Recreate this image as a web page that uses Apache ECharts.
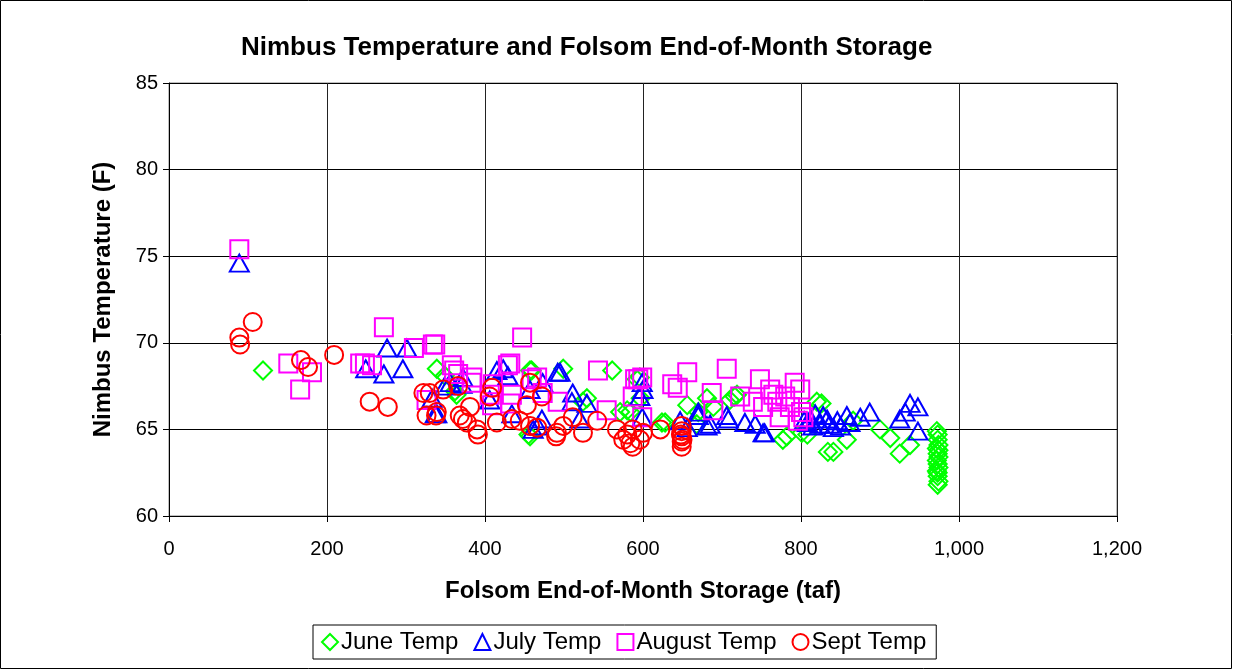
<!DOCTYPE html>
<html>
<head>
<meta charset="utf-8">
<script src="https://cdn.jsdelivr.net/npm/echarts@6/dist/echarts.min.js"></script>
<style>html,body{margin:0;padding:0;background:#fff;}#c{width:1233px;height:670px;}</style>
</head>
<body>
<div id="c"></div>
<script>
const seriesNames = ['June Temp', 'July Temp', 'August Temp', 'Sept Temp'];
const xTicks = [0, 200, 400, 600, 800, 1000, 1200];
const yTicks = [60, 65, 70, 75, 80, 85];

const juneTemp = [[119,68.4],[339,68.5],[349,68.1],[364,67.0],[362,67.2],[457,68.4],[459,68.4],[455,64.7],[457,64.6],[499,68.5],[524,66.6],[529,66.8],[561,68.4],[571,66.0],[584,66.0],[592,67.9],[596,68.0],[580,66.1],[597,66.8],[624,65.4],[628,65.4],[656,66.4],[668,65.3],[670,66.0],[681,66.8],[689,66.3],[710,66.7],[716,66.9],[719,67.0],[777,64.4],[782,64.6],[801,64.8],[808,64.7],[820,66.6],[826,66.5],[834,63.7],[841,63.7],[858,64.4],[866,65.5],[900,65.0],[913,64.5],[925,63.6],[938,64.1],[972,64.9],[973,64.7],[973,64.4],[974,64.1],[972,63.9],[974,63.8],[973,63.6],[974,63.4],[972,63.2],[973,63.0],[974,62.8],[972,62.6],[973,62.5],[973,62.3],[974,62.0],[973,61.8]];
const julyTemp = [[89,74.6],[249,68.5],[272,68.2],[276,69.7],[296,68.5],[301,69.7],[333,66.8],[337,65.9],[339,65.9],[349,67.5],[356,67.7],[371,67.6],[372,68.0],[406,66.7],[415,68.4],[423,68.5],[429,68.1],[434,65.9],[457,67.3],[461,65.0],[467,65.2],[473,67.7],[472,65.6],[492,68.3],[495,68.3],[510,66.6],[511,67.1],[520,65.6],[529,66.5],[596,66.9],[599,67.7],[599,65.7],[600,67.3],[647,65.5],[656,65.1],[670,66.0],[670,65.8],[681,65.2],[685,65.3],[706,65.8],[708,65.6],[729,65.4],[742,65.3],[752,64.8],[754,64.8],[804,65.5],[808,65.4],[812,65.6],[815,65.2],[818,65.9],[824,65.3],[828,65.8],[833,65.6],[836,65.3],[841,65.1],[846,65.5],[850,65.2],[858,65.8],[862,65.4],[875,65.7],[887,66.0],[925,65.6],[932,66.0],[938,66.5],[948,66.3],[948,64.9]];
const augustTemp = [[89,75.4],[151,68.8],[166,67.3],[181,68.3],[242,68.8],[248,68.8],[257,68.7],[272,70.9],[310,69.7],[326,66.7],[334,69.9],[337,69.9],[358,68.7],[361,68.4],[366,68.2],[383,67.7],[384,68.0],[406,67.0],[409,66.4],[410,67.6],[429,68.7],[432,68.8],[432,66.5],[434,67.0],[447,70.3],[459,67.9],[466,68.0],[473,67.1],[492,66.6],[543,68.4],[554,66.1],[587,66.9],[590,67.9],[594,67.9],[599,68.0],[599,65.7],[637,67.6],[644,67.4],[656,68.3],[687,67.1],[689,66.1],[706,68.5],[723,66.9],[739,66.6],[748,67.9],[752,66.3],[761,67.3],[765,67.0],[770,66.6],[773,65.7],[780,66.9],[786,66.3],[792,67.7],[796,65.5],[799,67.3],[800,66.0],[803,65.7]];
const septTemp = [[89,70.3],[90,69.9],[106,71.2],[167,69.0],[176,68.6],[209,69.3],[254,66.6],[277,66.3],[322,67.1],[326,65.8],[330,67.1],[338,65.8],[339,66.0],[347,67.3],[366,67.5],[368,65.8],[372,65.6],[377,65.4],[381,66.3],[390,65.0],[391,64.7],[406,66.9],[409,67.4],[415,65.4],[434,65.6],[444,65.5],[453,66.4],[457,67.7],[457,65.2],[466,65.1],[472,66.9],[490,64.6],[491,64.8],[499,65.2],[511,65.7],[524,64.8],[542,65.5],[567,65.0],[575,64.4],[580,64.7],[584,64.2],[587,65.0],[587,64.0],[596,64.4],[600,64.8],[622,65.0],[648,64.7],[649,65.2],[649,64.9],[649,64.6],[649,64.3],[649,64.0],[650,64.4]];

const colors = ['#00FF00', '#0000FF', '#FF00FF', '#FF0000'];
const symbols = ['path://M0,-1L1,0L0,1L-1,0Z', 'triangle', 'rect', 'circle'];
const sizes = [[18,18],[19,17],[18,18],[18,18]];
const dataSets = [juneTemp, julyTemp, augustTemp, septTemp];

function fmt(v){ return String(v).replace(/\B(?=(\d{3})+(?!\d))/g, ','); }

const chart = echarts.init(document.getElementById('c'), null, {renderer:'canvas'});
const font = '"Liberation Sans", Arial, sans-serif';
chart.setOption({
  animation: false,
  backgroundColor: '#fff',
  textStyle: {fontFamily: font},
  title: {
    text: 'Nimbus Temperature and Folsom End-of-Month Storage',
    left: 236, top: 30,
    textStyle: {fontFamily: font, fontSize: 26, fontWeight: 'bold', color: '#000'}
  },
  graphic: [{
    type: 'rect', shape: {x: 0.5, y: 0.5, width: 1231, height: 668},
    style: {fill: 'none', stroke: '#000', lineWidth: 1}, silent: true, z: -1
  }],
  grid: {left: 169, right: 116, top: 83, bottom: 154, show: true, borderColor: '#808080', borderWidth: 1},
  legend: {
    left: 313, top: 625,
    data: seriesNames.map((n, i) => ({name: n, icon: symbols[i]})),
    itemWidth: 16, itemHeight: 16, itemGap: 15,
    padding: [5, 10, 5, 8],
    borderColor: '#000', borderWidth: 1,
    textStyle: {fontFamily: font, fontSize: 24, color: '#000', padding: [0, 0, 0, -2]}
  },
  xAxis: {
    type: 'value', min: xTicks[0], max: xTicks[xTicks.length-1], interval: 200,
    name: 'Folsom End-of-Month Storage (taf)', nameLocation: 'middle', nameGap: 63,
    nameTextStyle: {fontFamily: font, fontSize: 24, fontWeight: 'bold', color: '#000'},
    axisLine: {lineStyle: {color: '#000', width: 1}},
    axisTick: {show: true, inside: false, length: 6, lineStyle: {color: '#000'}},
    axisLabel: {formatter: v => fmt(v), fontFamily: font, fontSize: 20, color: '#000', margin: 23},
    splitLine: {show: true, lineStyle: {color: '#222', width: 1}}
  },
  yAxis: {
    type: 'value', min: yTicks[0], max: yTicks[yTicks.length-1], interval: 5,
    name: 'Nimbus Temperature (F)', nameLocation: 'middle', nameGap: 54,
    nameTextStyle: {fontFamily: font, fontSize: 24, fontWeight: 'bold', color: '#000'},
    axisLine: {show: true, lineStyle: {color: '#000', width: 1}},
    axisTick: {show: true, inside: false, length: 6, lineStyle: {color: '#000'}},
    axisLabel: {fontFamily: font, fontSize: 20, color: '#000', margin: 11},
    splitLine: {show: true, lineStyle: {color: '#000', width: 1}}
  },
  series: seriesNames.map((n, i) => ({
    name: n, type: 'scatter', data: dataSets[i],
    symbol: symbols[i], symbolSize: sizes[i],
    itemStyle: {color: 'rgba(255,255,255,0)', borderColor: colors[i], borderWidth: 2, opacity: 1},
    emphasis: {disabled: true}
  }))
});
</script>
</body>
</html>
